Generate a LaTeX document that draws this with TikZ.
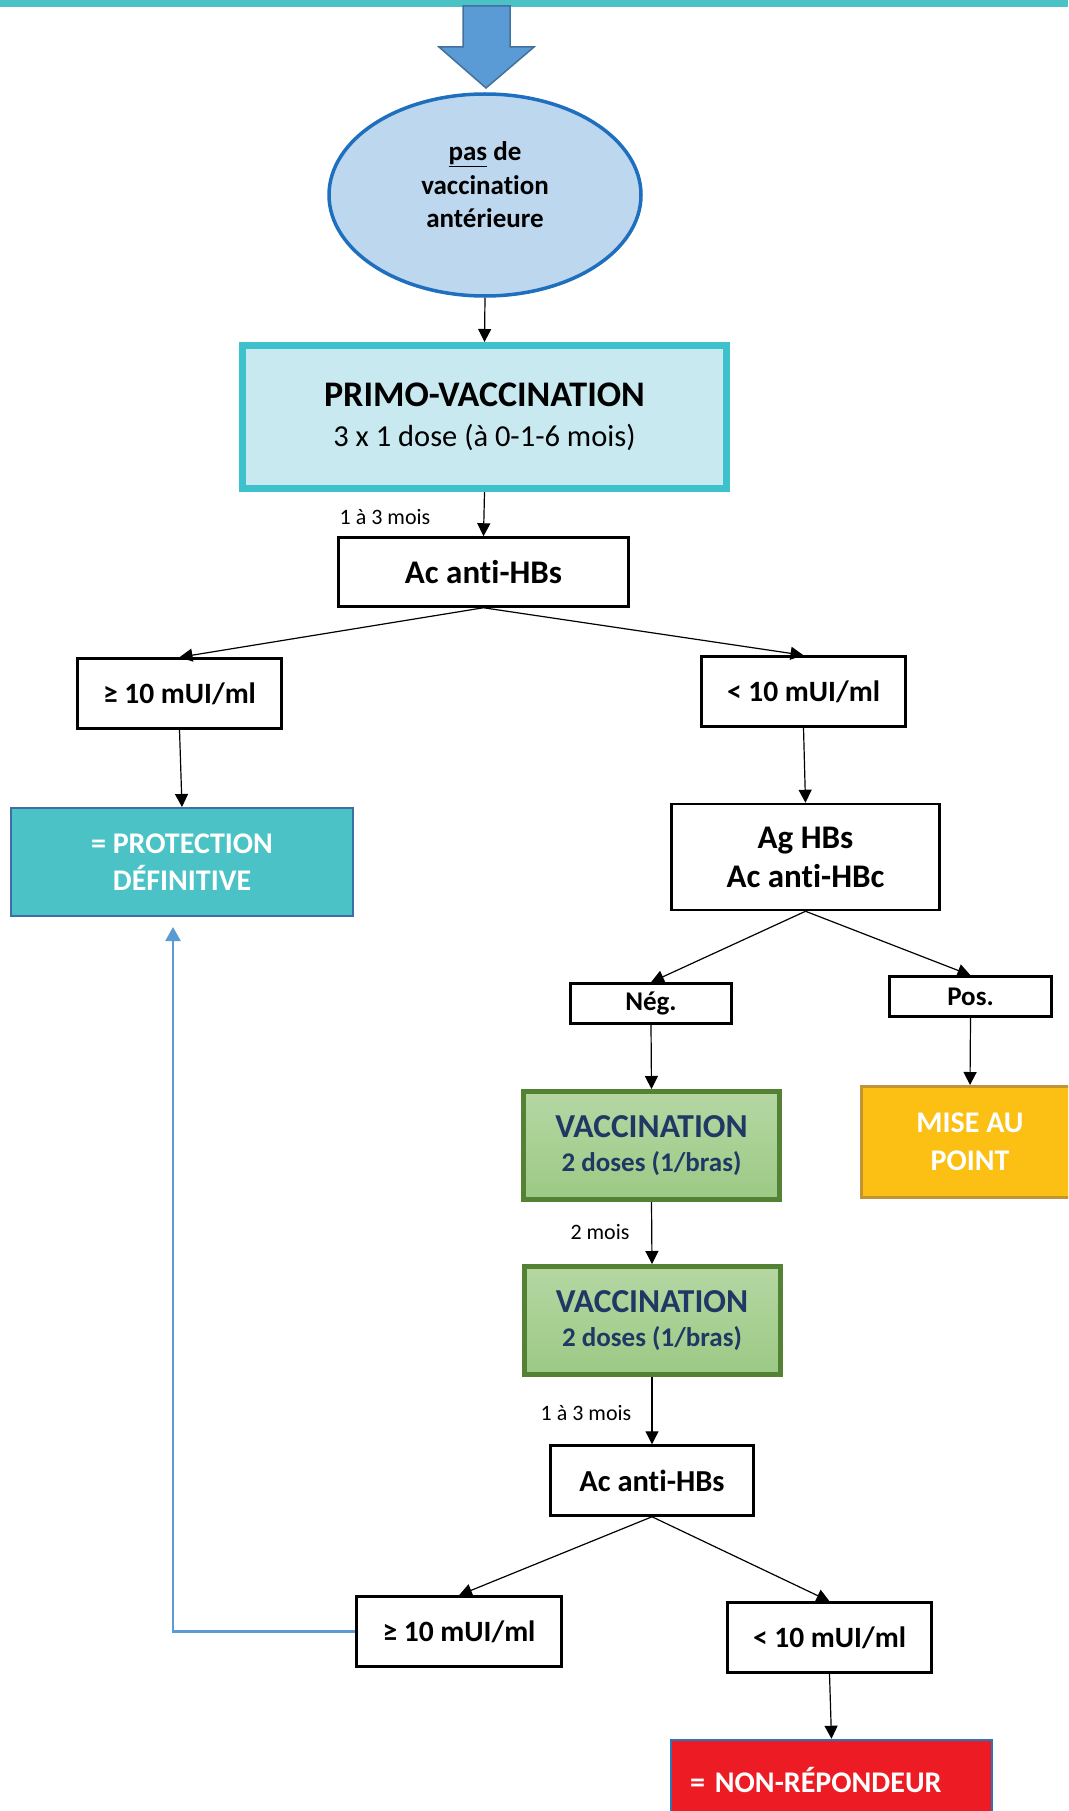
\documentclass[tikz,border=0pt]{standalone}
\usepackage{fontspec}
\setmainfont{Carlito}[Ligatures=NoCommon]
\usepackage{tikz}
\usetikzlibrary{arrows.meta,shapes.geometric}

\definecolor{tealbar}{HTML}{4BC2C6}
\definecolor{bigarrow}{HTML}{5B9BD5}
\definecolor{bigarrowline}{HTML}{41719C}
\definecolor{ovalfill}{HTML}{BDD7EE}
\definecolor{ovalline}{HTML}{1F6FBF}
\definecolor{primofill}{HTML}{C9E9F0}
\definecolor{primoline}{HTML}{3DC1CD}
\definecolor{protline}{HTML}{3C6FA8}
\definecolor{vacline}{HTML}{548235}
\definecolor{vactop}{HTML}{B5D7A3}
\definecolor{vacbottom}{HTML}{9CC985}
\definecolor{vactext}{HTML}{1F3864}
\definecolor{misefill}{HTML}{FBC013}
\definecolor{miseline}{HTML}{C39433}
\definecolor{nonfill}{HTML}{ED1C24}
\definecolor{nonline}{HTML}{2E75B6}

\begin{document}
\begin{tikzpicture}[x=1pt, y=-1pt,
		oval/.style={ellipse, draw=ovalline, line width=3.5pt, fill=ovalfill, minimum width=312pt, minimum height=202pt, inner sep=0pt},
		primobox/.style={draw=primoline, line width=7pt, fill=primofill, minimum width=484pt, minimum height=143pt, align=center, inner sep=0pt, font=\fontsize{30.5}{40}\selectfont},
		box/.style={draw=black, line width=2.5pt, fill=white, align=center, inner sep=0pt, font=\fontsize{29.5}{39}\selectfont\bfseries},
		bigtext/.style={font=\fontsize{33}{39}\selectfont\bfseries},
		protbox/.style={draw=protline, line width=2pt, fill=tealbar, text=white, align=center, inner sep=0pt, font=\fontsize{30}{37}\selectfont\bfseries},
		vacbox/.style={draw=vacline, line width=5pt, top color=vactop, bottom color=vacbottom, text=vactext, align=center, inner sep=0pt, minimum width=256pt, minimum height=108pt, font=\fontsize{27}{34}\selectfont\bfseries},
		misebox/.style={draw=miseline, line width=3pt, fill=misefill, text=white, align=center, inner sep=0pt, font=\fontsize{30}{38}\selectfont\bfseries},
		nonbox/.style={draw=nonline, line width=2.5pt, fill=nonfill, text=white, align=left, inner sep=0pt, font=\fontsize{30}{36}\selectfont\bfseries},
		delay/.style={inner sep=0pt, font=\fontsize{22}{26}\selectfont},
		arr/.style={line width=1.2pt, -{Triangle[length=13pt, width=13pt]}},
		back/.style={draw=bigarrow, line width=2.5pt, -{Triangle[length=14pt, width=15pt]}}]
	\useasboundingbox (0,0) rectangle (1068,1811);
	\clip (0,0) rectangle (1068,1811);
	\fill[tealbar] (0,0) rectangle (1068,7);
	\filldraw[fill=bigarrow, draw=bigarrowline, line width=1.5pt] (463,6) -- (510,6) -- (510,47) -- (534,47) -- (486,88) -- (439,47) -- (463,47) -- cycle;

	\node[oval, label={[align=center, yshift=10pt, font=\fontsize{27}{33.5}\selectfont\bfseries]center:\underline{pas} de\\vaccination\\antérieure}] (nv) at (485,195) {};
	\node[primobox] (primo) at (484.5,417) {{\fontsize{36}{40}\selectfont\bfseries PRIMO-VACCINATION}\\3 x 1 dose (à 0-1-6 mois)};
	\node[box, bigtext, minimum width=290pt, minimum height=69pt] (ac1) at (483.5,572) {Ac anti-HBs};
	\node[delay] (d1) at (385,517) {1 à 3 mois};
	\node[box, minimum width=204pt, minimum height=70pt] (ge1) at (179.5,693.5) {≥ 10 mUI/ml};
	\node[box, minimum width=204pt, minimum height=70pt] (lt1) at (803.5,691.5) {< 10 mUI/ml};
	\node[protbox, minimum width=342pt, minimum height=108pt] (prot) at (182,862) {= PROTECTION\\DÉFINITIVE};
	\node[box, bigtext, minimum width=268pt, minimum height=106pt] (ag) at (805.5,857) {Ag HBs\\Ac anti-HBc};
	\node[box, minimum width=161pt, minimum height=40pt, font=\fontsize{27}{32}\selectfont\bfseries] (neg) at (651,1003.5) {Nég.};
	\node[box, minimum width=162pt, minimum height=40pt, font=\fontsize{27}{32}\selectfont\bfseries] (pos) at (970.5,996.5) {Pos.};
	\node[vacbox] (vac1) at (651.5,1145.5) {{\fontsize{33.5}{34}\selectfont VACCINATION}\\2 doses (1/bras)};
	\node[misebox, minimum width=217pt, minimum height=111pt] (mise) at (970,1142) {MISE AU\\POINT};
	\node[delay] (d2) at (600,1232) {2 mois};
	\node[vacbox] (vac2) at (652,1320.5) {{\fontsize{33.5}{34}\selectfont VACCINATION}\\2 doses (1/bras)};
	\node[delay] (d3) at (586,1413) {1 à 3 mois};
	\node[box, font=\fontsize{30.5}{39}\selectfont\bfseries, minimum width=203pt, minimum height=70pt] (ac2) at (652,1480.5) {Ac anti-HBs};
	\node[box, minimum width=205pt, minimum height=70pt] (ge2) at (459,1631.5) {≥ 10 mUI/ml};
	\node[box, minimum width=204pt, minimum height=70pt] (lt2) at (829.5,1637.5) {< 10 mUI/ml};
	\node[nonbox, minimum width=321pt, minimum height=80pt, text width=283pt, inner xsep=19pt] (non) at (831.5,1780) {= NON-RÉPONDEUR};
	\coordinate (fb) at (173,927);

	\draw[arr] (nv.south) -- (primo.north);
	\draw[arr] (primo.south) -- (ac1.north);
	\draw[arr] (ac1.south) -- (ge1.north);
	\draw[arr] (ac1.south) -- (lt1.north);
	\draw[arr] (ge1.south) -- (prot.north);
	\draw[arr] (lt1.south) -- (ag.north);
	\draw[arr] (ag.south) -- (neg.north);
	\draw[arr] (ag.south) -- (pos.north);
	\draw[arr] (neg.south) -- (vac1.north);
	\draw[arr] (pos.south) -- (mise.north);
	\draw[arr] (vac1.south) -- (vac2.north);
	\draw[arr] (vac2.south) -- (ac2.north);
	\draw[arr] (ac2.south) -- (ge2.north);
	\draw[arr] (ac2.south) -- (lt2.north);
	\draw[arr] (lt2.south) -- (non.north);
	\draw[back] (ge2.west) -| (fb);
\end{tikzpicture}
\end{document}
